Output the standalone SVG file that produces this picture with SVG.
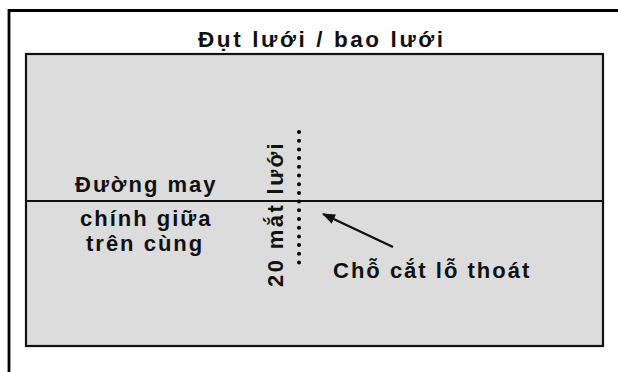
<svg xmlns="http://www.w3.org/2000/svg" width="618" height="372" viewBox="0 0 618 372">
<defs>
<style>
.t{font-family:"Liberation Sans",Arial,sans-serif;font-weight:bold;fill:#111;font-size:22px;letter-spacing:2px;}
</style>
<marker id="ah" markerWidth="13" markerHeight="10" refX="12" refY="5" orient="auto" markerUnits="userSpaceOnUse" viewBox="0 0 13 10">
<path d="M0,0 L13,5 L0,10 Z" fill="#111"/>
</marker>
</defs>
<rect width="618" height="372" fill="#fff"/>
<g id="frame">
<path d="M9,372 V10.5 H618" fill="none" stroke="#000" stroke-width="2.8"/>
</g>
<g id="title">
<text class="t" x="198" y="47" style="font-size:22.5px;letter-spacing:2.6px">Đụt lưới / bao lưới</text>
</g>
<g id="net">
<rect x="26" y="54" width="577" height="292" fill="#dcdcdc" stroke="#111" stroke-width="2.2"/>
</g>
<g id="connectors">
<line x1="26" y1="201" x2="603" y2="201" stroke="#111" stroke-width="1.8"/>
<line x1="299" y1="132" x2="299" y2="264" stroke="#000" stroke-width="4" stroke-linecap="round" stroke-dasharray="0 8.7"/>
<line x1="393" y1="247" x2="323" y2="214" stroke="#111" stroke-width="2.4" marker-end="url(#ah)"/>
</g>
<g id="seam-label">
<text class="t">
<tspan x="75" y="192">Đường may</tspan>
<tspan x="80" y="226">chính giữa</tspan>
<tspan x="86" y="251">trên cùng</tspan>
</text>
</g>
<g id="mesh-label">
<text class="t" transform="translate(283,287) rotate(-90)" style="letter-spacing:2.4px">20 mắt lưới</text>
</g>
<g id="cut-label">
<text class="t" x="333" y="278">Chỗ cắt lỗ thoát</text>
</g>
</svg>
